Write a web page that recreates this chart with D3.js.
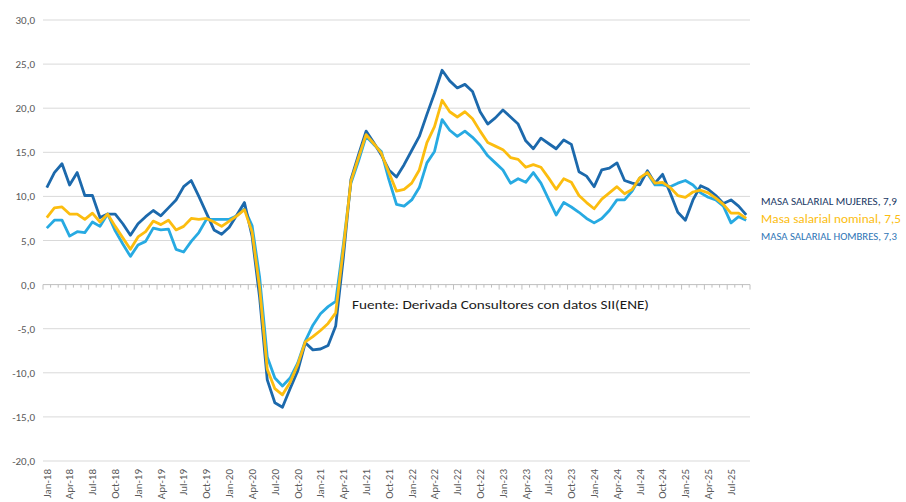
<!DOCTYPE html>
<html>
<head>
<meta charset="utf-8">
<script src="https://cdn.jsdelivr.net/npm/d3@7"></script>
<style>
  body { margin: 0; background: #fff; }
  svg { display: block; font-family: Carlito, Lato, "Open Sans", sans-serif; }
</style>
</head>
<body>
<div id="chart"></div>
<script>
// categories: monthly, Jan-18 .. Sep-25
const monthNames = ["Jan", "Feb", "Mar", "Apr", "May", "Jun", "Jul", "Aug", "Sep", "Oct", "Nov", "Dec"];
const years = ["18", "19", "20", "21", "22", "23", "24", "25"];
const months = [];
years.forEach(yy => monthNames.forEach(m => months.push(`${m}-${yy}`)));
months.splice(93); // data ends Sep-25

// y-o-y % change
const mujeres = [
  11.0, 12.7, 13.7, 11.3, 12.7, 10.1, 10.1, 7.6, 8.0, 8.0, 6.9, 5.6,
  6.9, 7.7, 8.4, 7.8, 8.7, 9.6, 11.1, 11.8, 10.0, 8.1, 6.2, 5.7,
  6.5, 7.9, 9.3, 5.5, -1.5, -10.8, -13.4, -13.9, -11.8, -9.8, -6.6, -7.4,
  -7.3, -6.9, -4.7, 3.0, 11.9, 14.7, 17.4, 16.1, 14.7, 13.0, 12.2, 13.6,
  15.2, 16.8, 19.3, 21.7, 24.3, 23.1, 22.3, 22.7, 21.9, 19.6, 18.2, 18.9,
  19.8, 19.0, 18.2, 16.3, 15.4, 16.6, 16.0, 15.4, 16.4, 15.9, 12.8, 12.3,
  11.1, 13.0, 13.2, 13.8, 11.8, 11.5, 11.3, 12.9, 11.5, 12.5, 10.4, 8.2,
  7.3, 9.6, 11.2, 10.8, 10.1, 9.2, 9.6, 8.9, 7.9
];
const nominal = [
  7.6, 8.7, 8.8, 8.0, 8.0, 7.4, 8.1, 7.1, 8.0, 6.6, 5.3, 4.0,
  5.4, 6.0, 7.2, 6.8, 7.3, 6.2, 6.6, 7.5, 7.4, 7.5, 7.1, 6.6,
  7.2, 7.8, 8.5, 6.0, -0.4, -9.6, -11.8, -12.5, -11.1, -9.1, -6.5, -5.9,
  -5.2, -4.4, -3.2, 4.0, 11.7, 14.4, 17.0, 16.0, 14.9, 12.7, 10.6, 10.8,
  11.5, 13.0, 16.1, 17.9, 20.9, 19.6, 19.0, 19.6, 18.8, 17.4, 16.1, 15.7,
  15.3, 14.4, 14.2, 13.3, 13.6, 13.3, 12.1, 10.8, 12.0, 11.6, 10.1, 9.3,
  8.6, 9.7, 10.4, 11.1, 10.3, 10.8, 12.1, 12.7, 11.5, 11.6, 11.0, 10.1,
  9.9, 10.5, 10.7, 10.4, 9.8, 9.1, 8.1, 8.1, 7.5
];
const hombres = [
  6.4, 7.3, 7.3, 5.5, 6.0, 5.9, 7.1, 6.6, 8.0, 6.1, 4.6, 3.2,
  4.5, 4.9, 6.4, 6.2, 6.3, 4.0, 3.7, 4.9, 5.9, 7.4, 7.4, 7.4,
  7.4, 7.8, 8.6, 6.7, 0.8, -8.2, -10.6, -11.5, -10.6, -8.9, -6.4, -4.6,
  -3.3, -2.5, -1.9, 4.5, 11.5, 14.0, 16.8, 15.9, 15.1, 11.9, 9.1, 8.9,
  9.6, 11.0, 13.8, 15.1, 18.7, 17.5, 16.8, 17.4, 16.7, 15.8, 14.6, 13.8,
  13.0, 11.5, 12.0, 11.6, 12.7, 11.5, 9.7, 7.9, 9.3, 8.8, 8.2, 7.5,
  7.0, 7.5, 8.4, 9.6, 9.6, 10.6, 12.1, 12.6, 11.3, 11.3, 11.1, 11.5,
  11.8, 11.3, 10.4, 9.9, 9.6, 8.9, 7.0, 7.7, 7.3
];
const yTicks = [-20, -15, -10, -5, 0, 5, 10, 15, 20, 25, 30];
const source = "Fuente: Derivada Consultores con datos SII(ENE)";

const series = [
  {name: "MASA SALARIAL HOMBRES", values: hombres, color: "#27aae2"},
  {name: "MASA SALARIAL MUJERES", values: mujeres, color: "#1c69ac"},
  {name: "Masa salarial nominal", values: nominal, color: "#fcbd0f"}
];

const W = 906, H = 502;
const margin = {top: 20, right: 156, bottom: 41, left: 43};

const svg = d3.select("#chart").append("svg")
    .attr("width", W)
    .attr("height", H);

const x = d3.scaleBand()
    .domain(months)
    .range([margin.left, W - margin.right])
    .padding(0);

const y = d3.scaleLinear()
    .domain([-20, 30])
    .range([H - margin.bottom, margin.top]);

const fmt = v => d3.format(".1f")(v).replace(".", ",").replace("\u2212", "-");

// gridlines
svg.append("g")
    .selectAll("line")
    .data(yTicks)
    .enter().append("line")
    .attr("x1", margin.left)
    .attr("x2", W - margin.right)
    .attr("y1", d => y(d))
    .attr("y2", d => y(d))
    .attr("stroke", d => d === 0 ? "#bfbfbf" : "#d9d9d9")
    .attr("stroke-width", 1);

// y axis labels
svg.append("g")
    .attr("transform", `translate(35,0)`)
    .call(d3.axisLeft(y).tickValues(yTicks).tickSize(0).tickPadding(0).tickFormat(fmt))
    .call(g => g.select(".domain").remove())
    .selectAll("text")
    .attr("font-family", "Carlito, Lato, sans-serif")
    .attr("font-size", "11px")
    .attr("fill", "#595959");

// tick marks on the zero line, between categories
const bw = x.bandwidth();
svg.append("g")
    .selectAll("line")
    .data(d3.range(months.length + 1))
    .enter().append("line")
    .attr("x1", i => margin.left + i * bw)
    .attr("x2", i => margin.left + i * bw)
    .attr("y1", y(0))
    .attr("y2", i => y(0) + (i % 3 === 0 ? 5 : 3))
    .attr("stroke", "#bfbfbf")
    .attr("stroke-width", 1);

// x labels, every 3 months
svg.append("g")
    .selectAll("text")
    .data(months.filter((m, i) => i % 3 === 0))
    .enter().append("text")
    .attr("transform", d => `translate(${x(d) + bw / 2},${H - margin.bottom + 8}) rotate(-90)`)
    .attr("dy", "0.35em")
    .attr("text-anchor", "end")
    .attr("font-size", "11px")
    .attr("fill", "#595959")
    .text(d => d);

// lines
const line = d3.line()
    .x((d, i) => x(months[i]) + bw / 2)
    .y(d => y(d));

svg.append("g")
    .selectAll("path")
    .data(series)
    .enter().append("path")
    .attr("d", d => line(d.values))
    .attr("fill", "none")
    .attr("stroke", d => d.color)
    .attr("stroke-width", 2.8)
    .attr("stroke-linejoin", "round");

// source note
svg.append("text")
    .attr("x", 352)
    .attr("y", 309)
    .attr("font-size", "13px")
    .attr("fill", "#1a1a1a")
    .attr("textLength", 297)
    .attr("lengthAdjust", "spacingAndGlyphs")
    .text(source);

// end labels
const labels = [
  {text: `MASA SALARIAL MUJERES, ${fmt(mujeres[mujeres.length - 1])}`, y: 205, size: 10, len: 136, color: "#203864"},
  {text: `Masa salarial nominal, ${fmt(nominal[nominal.length - 1])}`, y: 223, size: 12.5, len: 140, color: "#fcbd0f"},
  {text: `MASA SALARIAL HOMBRES, ${fmt(hombres[hombres.length - 1])}`, y: 240, size: 10, len: 136, color: "#2e75b6"}
];

svg.append("g")
    .selectAll("text")
    .data(labels)
    .enter().append("text")
    .attr("x", 761)
    .attr("y", d => d.y)
    .attr("font-size", d => d.size + "px")
    .attr("fill", d => d.color)
    .attr("textLength", d => d.len)
    .attr("lengthAdjust", "spacingAndGlyphs")
    .text(d => d.text);
</script>
</body>
</html>
